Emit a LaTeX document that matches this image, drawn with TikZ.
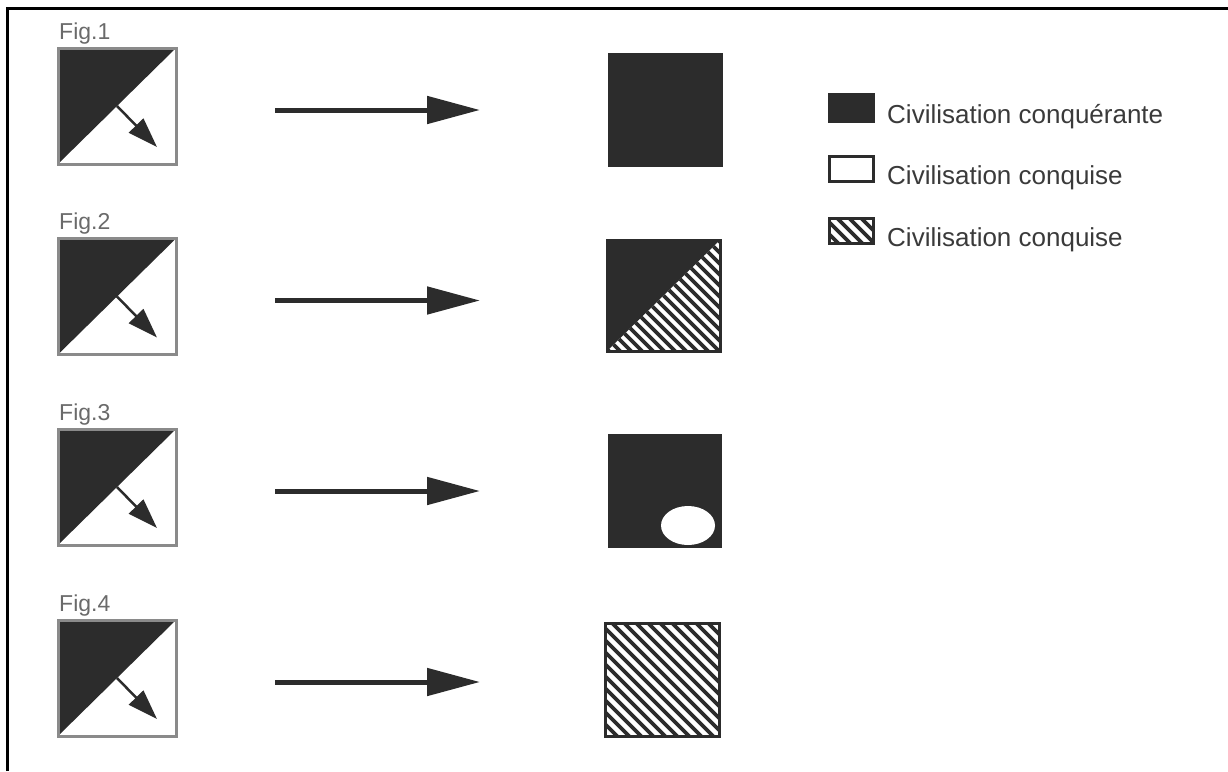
\documentclass[tikz,border=0pt]{standalone}
\usepackage{fontspec}
\setmainfont{Liberation Sans}
\usetikzlibrary{arrows.meta}
\definecolor{dk}{HTML}{2C2C2C}
\definecolor{lgray}{HTML}{8A8A8A}
\definecolor{lbl}{HTML}{6A6A6A}
\definecolor{txt}{HTML}{3A3A3A}
\begin{document}
\begin{tikzpicture}[x=1pt,y=-1pt,
  box/.style={inner sep=0pt, outer sep=0pt, draw=none},
  figlbl/.style={inner sep=0pt, anchor=base west, text=lbl, font=\fontsize{23}{23}\selectfont},
  legtxt/.style={inner sep=0pt, anchor=base west, text=txt, font=\fontsize{26}{26}\selectfont},
  bigarrow/.style={draw=dk, line width=5pt, -{Triangle[length=53pt,width=27pt]}},
  smallarrow/.style={draw=dk, line width=2.5pt, -{Triangle[length=30pt,width=20pt]}},
  lborder/.style={draw=lgray, line width=3pt},
  dborder/.style={draw=dk, line width=3pt},
  hatchline/.style={draw=dk, line width=3.6pt}
]
\useasboundingbox (0,0) rectangle (1228,771);
% frame
\draw[line width=3pt] (7.5,771) -- (7.5,8.5) -- (1228,8.5);

% left squares, labels, arrows
\foreach \i/\cy in {1/106,2/296.5,3/487,4/678}{
  \node[figlbl] (F\i) at (59,\cy-67) {Fig.\i};
  \node[box, minimum width=118pt, minimum height=116pt] (L\i) at (117,\cy) {};
  \fill[dk] (L\i.north west) -- (L\i.north east) -- (L\i.south west) -- cycle;
  \draw[lborder] (L\i.north west) rectangle (L\i.south east);
  \coordinate (P\i) at (157,\cy+41);
  \draw[smallarrow] (L\i.center) -- (P\i);
  \coordinate (A\i) at (275,\cy+4);
  \coordinate (B\i) at (480,\cy+4);
  \draw[bigarrow] (A\i) -- (B\i);
}

% right square 1
\node[box, fill=dk, minimum width=115pt, minimum height=114pt] (R1) at (665.5,110) {};

% right square 2
\node[box, minimum width=113pt, minimum height=111pt] (R2) at (663.5,295.5) {};
\begin{scope}
  \clip (R2.north east) -- (R2.south east) -- (R2.south west) -- cycle;
  \foreach \k in {-120,-109,...,120}
    \draw[hatchline] ([xshift=\k pt]R2.north west) -- ++(130,130);
\end{scope}
\fill[dk] (R2.north west) -- (R2.north east) -- (R2.south west) -- cycle;
\draw[dborder] (R2.north west) rectangle (R2.south east);

% right square 3
\node[box, fill=dk, minimum width=114pt, minimum height=114pt] (R3) at (665,491) {};
\fill[white] (688,525.5) ellipse [x radius=27, y radius=19.5];

% right square 4
\node[box, minimum width=114pt, minimum height=113pt] (R4) at (662.5,680) {};
\begin{scope}
  \clip (R4.north west) rectangle (R4.south east);
  \foreach \k in {-125,-113,...,125}
    \draw[hatchline] ([xshift=\k pt]R4.north west) -- ++(130,130);
\end{scope}
\draw[dborder] (R4.north west) rectangle (R4.south east);

% legend
\node[box, fill=dk, minimum width=47pt, minimum height=30pt] (K1) at (851.5,108) {};
\node[box, minimum width=44pt, minimum height=25pt] (K2) at (851.5,169) {};
\draw[dborder] (K2.north west) rectangle (K2.south east);
\node[box, minimum width=44pt, minimum height=25pt] (K3) at (851.5,231) {};
\begin{scope}
  \clip (K3.north west) rectangle (K3.south east);
  \foreach \k in {-40,-28,...,50}
    \draw[hatchline] ([xshift=\k pt]K3.north west) -- ++(40,40);
\end{scope}
\draw[dborder] (K3.north west) rectangle (K3.south east);

\node[legtxt] (T1) at (887,123) {Civilisation conquérante};
\node[legtxt] (T2) at (887,184) {Civilisation conquise};
\node[legtxt] (T3) at (887,246) {Civilisation conquise};
\end{tikzpicture}
\end{document}
